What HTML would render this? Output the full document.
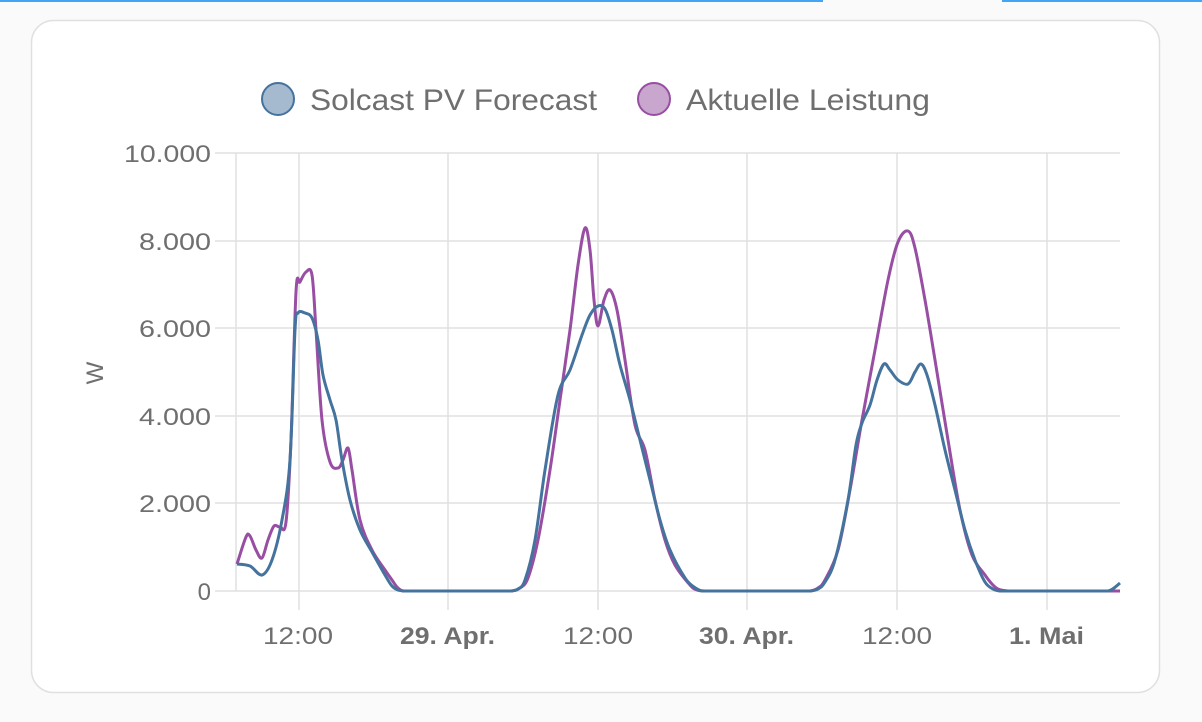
<!DOCTYPE html>
<html><head><meta charset="utf-8"><style>
html,body{margin:0;padding:0;background:#fafafa;width:1202px;height:722px;overflow:hidden;font-family:"Liberation Sans",sans-serif}
</style></head><body>
<svg width="1202" height="722" xmlns="http://www.w3.org/2000/svg" font-family="Liberation Sans, sans-serif">
<rect x="0" y="0" width="823" height="2" fill="#42a5f5"/>
<rect x="1002" y="0" width="200" height="2" fill="#42a5f5"/>
<rect x="31.5" y="20.5" width="1128" height="672" rx="22" fill="#fff" stroke="#e0e0e0" stroke-width="1.5"/>
<circle cx="278" cy="99" r="16" fill="#a5b9cf" stroke="#44739e" stroke-width="2"/>
<text x="310" y="110" font-size="30" fill="#6f6f6f" textLength="287" lengthAdjust="spacingAndGlyphs">Solcast PV Forecast</text>
<circle cx="654" cy="99" r="16" fill="#c8a6cd" stroke="#984ea3" stroke-width="2"/>
<text x="686" y="110" font-size="30" fill="#6f6f6f" textLength="244" lengthAdjust="spacingAndGlyphs">Aktuelle Leistung</text>
<g stroke="#e0e0e0" stroke-width="1.5">
<line x1="215" y1="153" x2="1120" y2="153"/><line x1="215" y1="241" x2="1120" y2="241"/>
<line x1="215" y1="328" x2="1120" y2="328"/><line x1="215" y1="416" x2="1120" y2="416"/>
<line x1="215" y1="503" x2="1120" y2="503"/><line x1="215" y1="591" x2="1120" y2="591"/>
<line x1="236" y1="153" x2="236" y2="591"/>
<line x1="299" y1="153" x2="299" y2="610"/><line x1="448" y1="153" x2="448" y2="610"/>
<line x1="598" y1="153" x2="598" y2="610"/><line x1="747" y1="153" x2="747" y2="610"/>
<line x1="897" y1="153" x2="897" y2="610"/><line x1="1047" y1="153" x2="1047" y2="610"/>
</g>
<g font-size="24" fill="#6f6f6f" text-anchor="end">
<text x="211" y="162" textLength="87" lengthAdjust="spacingAndGlyphs">10.000</text>
<text x="211" y="250" textLength="72" lengthAdjust="spacingAndGlyphs">8.000</text>
<text x="211" y="337" textLength="72" lengthAdjust="spacingAndGlyphs">6.000</text>
<text x="211" y="425" textLength="72" lengthAdjust="spacingAndGlyphs">4.000</text>
<text x="211" y="512" textLength="72" lengthAdjust="spacingAndGlyphs">2.000</text>
<text x="211" y="600">0</text>
</g>
<text transform="translate(103,373) rotate(-90)" font-size="24" fill="#6f6f6f" text-anchor="middle">W</text>
<g font-size="24" fill="#6f6f6f">
<text x="263" y="644" textLength="70" lengthAdjust="spacingAndGlyphs">12:00</text>
<text x="400" y="644" font-weight="bold" textLength="95" lengthAdjust="spacingAndGlyphs">29. Apr.</text>
<text x="563" y="644" textLength="70" lengthAdjust="spacingAndGlyphs">12:00</text>
<text x="699" y="644" font-weight="bold" textLength="95" lengthAdjust="spacingAndGlyphs">30. Apr.</text>
<text x="862" y="644" textLength="70" lengthAdjust="spacingAndGlyphs">12:00</text>
<text x="1009" y="644" font-weight="bold" textLength="75" lengthAdjust="spacingAndGlyphs">1. Mai</text>
</g>
<path id="p" fill="none" stroke="#984ea3" stroke-width="3" stroke-linejoin="round"/>
<path id="b" fill="none" stroke="#44739e" stroke-width="3" stroke-linejoin="round"/>
</svg>
<script>
function fill(a){var r=[];for(var i=0;i<a.length;i++){r.push(a[i]);if(i<a.length-1&&a[i][1]==a[i+1][1]&&a[i+1][0]-a[i][0]>12){for(var x=a[i][0]+10;x<a[i+1][0]-5;x+=10)r.push([x,a[i][1]]);}}return r;}
function sm(a){a=fill(a);var d="M"+a[0][0]+","+a[0][1];for(var i=0;i<a.length-1;i++){var p0=a[i-1]||a[i],p1=a[i],p2=a[i+1],p3=a[i+2]||p2;
var c1x=p1[0]+(p2[0]-p0[0])/6,c1y=p1[1]+(p2[1]-p0[1])/6,c2x=p2[0]-(p3[0]-p1[0])/6,c2y=p2[1]-(p3[1]-p1[1])/6;
c1y=Math.min(c1y,591);c2y=Math.min(c2y,591);
d+=" C"+c1x+","+c1y+" "+c2x+","+c2y+" "+p2[0]+","+p2[1];}return d;}
var B=[[237,564],[250,566],[262,575],[272,560],[282,520],[290,460],[295,330],[298,313],[305,313],[312,318],[318,340],[323,375],[330,400],[336,420],[342,460],[350,500],[360,530],[372,552],[385,575],[392,586],[398,590],[405,591],[510,591],[518,589],[525,580],[535,540],[545,470],[558,395],[570,370],[582,335],[590,315],[598,306],[605,309],[612,330],[620,365],[630,400],[640,440],[650,480],[660,520],[670,550],[685,578],[694,587],[702,591],[810,591],[818,589],[825,582],[835,560],[848,500],[856,445],[862,423],[870,405],[877,380],[884,364],[890,370],[898,380],[908,384],[915,372],[921,364],[927,375],[935,405],[945,450],[955,490],[965,530],[975,560],[985,582],[993,589],[1000,591],[1108,591],[1114,588],[1120,583]];
var P=[[237,564],[246,537],[250,536],[256,550],[262,558],[268,540],[274,526],[280,527],[286,522],[291,440],[296,292],[300,282],[306,272],[312,275],[316,330],[322,420],[330,462],[338,468],[343,460],[348,448],[352,470],[360,520],[372,550],[385,570],[392,580],[397,587],[403,591],[512,591],[520,588],[528,578],[538,540],[550,470],[560,400],[570,330],[578,265],[585,228],[590,250],[594,300],[598,326],[604,300],[610,290],[617,310],[625,360],[635,425],[645,450],[655,500],[665,540],[675,565],[690,585],[697,590],[705,591],[810,591],[818,588],[825,580],[838,550],[850,490],[862,420],[875,350],[888,280],[898,242],[908,231],[915,248],[925,300],[935,360],[948,440],[960,510],[972,555],[985,575],[992,584],[998,589],[1008,591],[1120,591]];
document.getElementById('b').setAttribute('d',sm(B));
document.getElementById('p').setAttribute('d',sm(P));
</script>
</body></html>
